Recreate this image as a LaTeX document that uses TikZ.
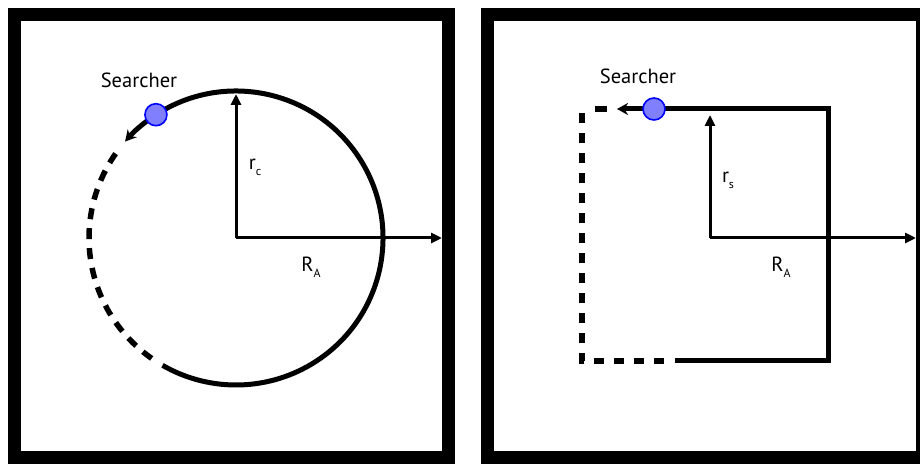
\documentclass[tikz,border=0pt]{standalone}
\usepackage{fontspec}
\setmainfont{PT Sans}
\usetikzlibrary{arrows.meta,calc,positioning}
\newcommand{\lowsub}[1]{\raisebox{-0.3em}{\fontsize{12}{13}\selectfont #1}}

\begin{document}
\begin{tikzpicture}[
    x=1pt, y=1pt,
    frame/.style={draw, line width=13pt},
    walk/.style={line width=5pt},
    walkdash/.style={line width=5.5pt, dash pattern=on 11pt off 9pt},
    walkarrow/.style={line width=5pt, -{Stealth[length=11pt,width=12pt]}},
    vector/.style={line width=3pt, -{Triangle[length=11pt,width=10pt]}},
    searcher/.style={
        circle, draw=blue, fill=blue!50,
        line width=1.6pt,
        minimum size=22pt, inner sep=0pt
    },
    every node/.style={
        font=\fontsize{20.5}{22}\selectfont
    }
]
\useasboundingbox (0,0) rectangle (920,463);

% circular search
\draw[frame] (14.5,5.5) rectangle (448.5,448.5);
\coordinate (cc) at (236,225);
\coordinate (cctop) at ($(cc)+(0,144)$);
\coordinate (ccright) at (442,225);
\coordinate (ccdot) at ($(cc)+(123:147)$);
\coordinate (cctip) at ($(cc)+(139:147)$);
\draw[walk] (ccdot) arc[start angle=123, end angle=-120, radius=147];
\draw[walkdash] ($(cc)+(235:147)$) arc[start angle=235, end angle=142, radius=147];
\draw[walkarrow] (ccdot) arc[start angle=123, end angle=139, radius=147];
\draw[vector] (cc) -- (cctop);
\draw[vector] (cc) -- (ccright);
\node[searcher] (dotc) at (ccdot) {};
\node (searcherc) at (139,383) {Searcher};
\node (rc) at (255,296) {r\lowsub{c}};
\node (rac) at (311,196) {R\lowsub{A}};

% square search
\draw[frame] (487.5,5.5) rectangle (922.5,448.5);
\coordinate (cs) at (710,225);
\coordinate (cstop) at (710,348);
\coordinate (csright) at (916,225);
\coordinate (csdot) at (654,354);
\coordinate (sq1) at (828,354);
\coordinate (sq2) at (828,102);
\coordinate (sq3) at (675,102);
\coordinate (sq3d) at (664,102);
\coordinate (sq4) at (582,102);
\coordinate (sq5) at (582,354);
\coordinate (sq5d) at (595,354);
\coordinate (sq6) at (607,354);
\coordinate (cstip) at (617,354);
\draw[walk] (csdot) -- (sq1) -- (sq2) -- (sq3);
\draw[walkdash, dash pattern=on 10pt off 10pt] (sq3d) -- (sq4) -- (sq5);
\draw[walk, line width=5.5pt] (sq5d) -- (sq6);
\draw[walkarrow] (csdot) -- (cstip);
\draw[vector] (cs) -- (cstop);
\draw[vector] (cs) -- (csright);
\node[searcher] (dots) at (csdot) {};
\node (searchers) at (638,387) {Searcher};
\node (rs) at (728,283) {r\lowsub{s}};
\node (ras) at (781,196) {R\lowsub{A}};
\end{tikzpicture}
\end{document}
